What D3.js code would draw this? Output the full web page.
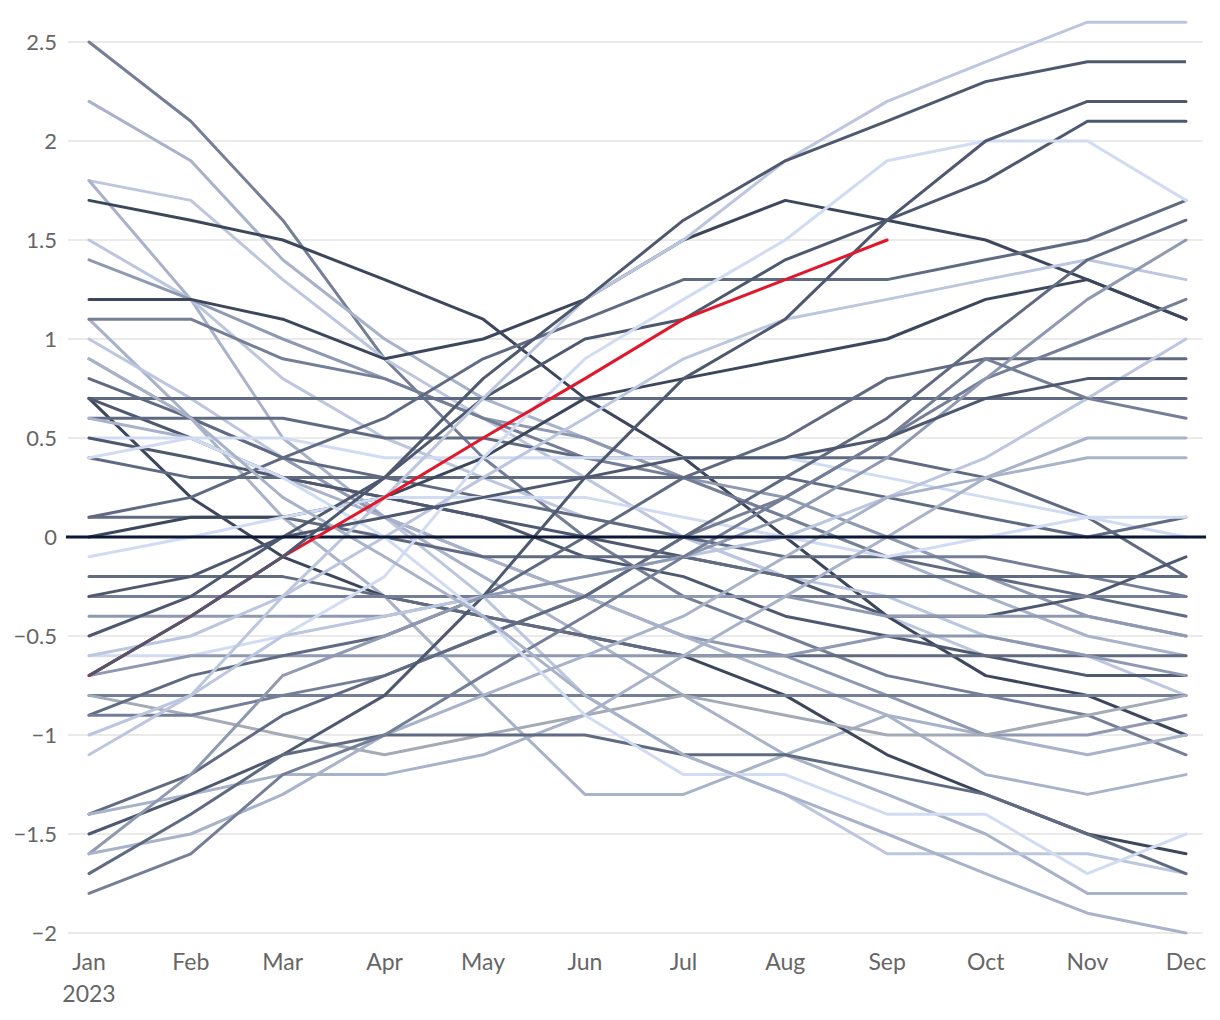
<!DOCTYPE html>
<html><head><meta charset="utf-8">
<script src="https://cdn.jsdelivr.net/npm/d3@7"></script>
<style>body{margin:0;background:#fff}svg{display:block}</style>
</head><body><svg id="c" width="1220" height="1020"></svg>
<script>
const months = ["2023-01-01","2023-02-01","2023-03-01","2023-04-01","2023-05-01","2023-06-01","2023-07-01","2023-08-01","2023-09-01","2023-10-01","2023-11-01","2023-12-01"];
const yTicks = [-2,-1.5,-1,-0.5,0,0.5,1,1.5,2,2.5];
const shades = ["#3d475b","#4e596f","#606b82","#747f97","#8f99b1","#a8b2c9","#bcc6de","#d1dcf3","#a4aab6"];
// each series: values Jan..Dec and a shade index
const seriesValues = [
 [2.5,2.1,1.6,0.9,0.4,0.0,-0.3,-0.5,-0.7,-0.8,-0.9,-1.1],
 [2.2,1.9,1.4,1.0,0.7,0.5,0.3,0.1,-0.1,-0.3,-0.5,-0.6],
 [1.8,1.7,1.3,0.9,0.6,0.3,0.0,-0.2,-0.4,-0.6,-0.7,-0.7],
 [1.8,1.2,0.5,0.1,-0.2,-0.5,-0.8,-1.1,-1.3,-1.5,-1.8,-1.8],
 [1.7,1.6,1.5,1.3,1.1,0.7,0.4,0.0,-0.4,-0.7,-0.8,-1.0],
 [1.5,1.2,0.8,0.5,0.3,0.1,0.0,-0.2,-0.3,-0.5,-0.6,-0.8],
 [1.4,1.2,1.0,0.8,0.6,0.5,0.3,0.2,0.0,-0.2,-0.4,-0.5],
 [1.2,1.2,1.1,0.9,1.0,1.2,1.5,1.7,1.6,1.5,1.3,1.1],
 [1.1,0.6,0.1,-0.3,-0.8,-1.3,-1.3,-1.1,-0.9,-1.0,-1.1,-1.0],
 [1.1,1.1,0.9,0.8,0.6,0.4,0.3,0.1,-0.1,-0.1,-0.2,-0.3],
 [1.0,0.7,0.4,0.1,-0.3,-0.8,-1.1,-1.3,-1.6,-1.6,-1.6,-1.7],
 [0.9,0.6,0.4,0.1,-0.1,-0.3,-0.5,-0.6,-0.8,-1.0,-1.0,-0.9],
 [0.8,0.6,0.4,0.3,0.2,0.1,0.0,-0.1,-0.1,-0.2,-0.3,-0.4],
 [0.7,0.7,0.7,0.7,0.7,0.7,0.7,0.7,0.7,0.7,0.7,0.7],
 [0.7,0.2,-0.1,-0.3,-0.4,-0.5,-0.6,-0.8,-1.1,-1.3,-1.5,-1.6],
 [0.7,0.5,0.3,0.2,0.1,-0.1,-0.2,-0.4,-0.5,-0.6,-0.7,-0.7],
 [0.6,0.6,0.6,0.5,0.5,0.4,0.4,0.4,0.4,0.3,0.1,-0.2],
 [0.6,0.5,0.3,0.1,-0.1,-0.3,-0.5,-0.7,-0.9,-1.2,-1.3,-1.2],
 [0.5,0.5,0.5,0.4,0.4,0.4,0.4,0.4,0.3,0.2,0.1,0.0],
 [0.5,0.4,0.3,0.2,0.1,0.0,-0.1,-0.2,-0.4,-0.4,-0.3,-0.1],
 [0.4,0.3,0.3,0.3,0.3,0.3,0.3,0.3,0.2,0.1,0.0,0.1],
 [0.1,0.2,0.4,0.6,0.9,1.1,1.3,1.3,1.3,1.4,1.5,1.7],
 [0.1,0.1,0.1,0.0,-0.1,-0.1,-0.1,-0.2,-0.2,-0.2,-0.2,-0.2],
 [0.0,0.1,0.1,0.2,0.4,0.7,0.8,0.9,1.0,1.2,1.3,1.1],
 [-0.1,0.0,0.1,0.2,0.2,0.2,0.1,0.0,-0.1,0.0,0.1,0.1],
 [-0.2,-0.2,-0.2,-0.3,-0.4,-0.5,-0.6,-0.6,-0.6,-0.6,-0.6,-0.6],
 [-0.3,-0.3,-0.3,-0.3,-0.3,-0.3,-0.3,-0.3,-0.3,-0.3,-0.3,-0.3],
 [-0.4,-0.4,-0.4,-0.4,-0.3,-0.3,-0.3,-0.3,-0.4,-0.4,-0.4,-0.5],
 [-0.5,-0.3,0.0,0.3,0.7,1.0,1.1,1.4,1.6,1.8,2.1,2.1],
 [-0.6,-0.6,-0.5,-0.2,0.4,0.9,1.2,1.5,1.9,2.0,2.0,1.7],
 [-0.6,-0.5,-0.3,0.0,0.3,0.6,0.9,1.1,1.2,1.3,1.4,1.3],
 [-0.7,-0.6,-0.6,-0.6,-0.6,-0.6,-0.6,-0.6,-0.5,-0.5,-0.6,-0.7],
 [-0.8,-0.8,-0.8,-0.8,-0.8,-0.8,-0.8,-0.8,-0.8,-0.8,-0.8,-0.8],
 [-0.8,-0.9,-1.0,-1.1,-1.0,-0.9,-0.8,-0.9,-1.0,-1.0,-0.9,-0.8],
 [-0.9,-0.7,-0.6,-0.5,-0.3,0.0,0.3,0.5,0.8,0.9,0.9,0.9],
 [-0.9,-0.9,-0.8,-0.7,-0.5,-0.3,0.0,0.2,0.5,0.8,1.0,1.2],
 [-1.0,-0.8,-0.3,0.2,0.7,1.2,1.5,1.9,2.2,2.4,2.6,2.6],
 [-1.1,-0.8,-0.5,-0.4,-0.3,-0.2,-0.1,0.0,0.2,0.4,0.7,1.0],
 [-1.4,-1.2,-0.9,-0.7,-0.5,-0.3,0.0,0.3,0.6,1.0,1.4,1.6],
 [-1.4,-1.3,-1.2,-1.2,-1.1,-0.9,-0.6,-0.3,0.0,0.3,0.4,0.4],
 [-1.5,-1.3,-1.1,-0.8,-0.3,0.3,0.8,1.1,1.6,2.0,2.2,2.2],
 [-1.6,-1.2,-0.7,-0.5,-0.3,-0.2,-0.1,0.1,0.4,0.8,1.2,1.5],
 [-1.6,-1.5,-1.3,-1.0,-0.8,-0.6,-0.4,-0.1,0.2,0.3,0.5,0.5],
 [-1.7,-1.4,-1.1,-1.0,-1.0,-1.0,-1.1,-1.1,-1.2,-1.3,-1.5,-1.7],
 [-1.8,-1.6,-1.2,-1.0,-0.7,-0.4,-0.1,0.2,0.5,0.9,0.7,0.6],
 [0.4,0.5,0.3,0.0,-0.4,-0.9,-1.2,-1.2,-1.4,-1.4,-1.7,-1.5],
 [-0.3,-0.2,0.0,0.1,0.2,0.3,0.4,0.4,0.5,0.7,0.8,0.8],
 [0.9,0.6,0.2,-0.1,-0.4,-0.8,-1.1,-1.3,-1.5,-1.7,-1.9,-2.0]
];
const seriesShade = [3,5,6,5,0,6,4,0,5,3,6,4,2,2,0,1,2,5,7,1,2,2,2,0,7,2,3,4,1,7,6,4,3,8,2,3,6,6,2,5,1,4,5,2,3,7,1,5];
const highlightSeries = [-0.7,-0.4,-0.1,0.2,0.5,0.8,1.1,1.3,1.5];
const overlaySeries = [-0.7,-0.4,-0.1,0.3,0.8,1.2,1.6,1.9,2.1,2.3,2.4,2.4];

const svg = d3.select("#c");
const parse = d3.utcParse("%Y-%m-%d");
const dates = months.map(parse);
const x = d3.scaleUtc().domain([dates[0], dates[11]]).range([89, 1186]);
const y = d3.scaleLinear().domain([-2, 2.5]).range([933, 42]);
const font = "Lato, 'Noto Sans', sans-serif";

// grid
svg.append("g").selectAll("line").data(yTicks.filter(d=>d!==0)).join("line")
  .attr("x1",68).attr("x2",1203).attr("y1",d=>y(d)).attr("y2",d=>y(d))
  .attr("stroke","#e3e3e3").attr("stroke-width",1.6);
// y labels
svg.append("g").selectAll("text").data(yTicks).join("text")
  .attr("x",57).attr("y",d=>y(d)).attr("dy","0.36em").attr("text-anchor","end")
  .attr("font-family",font).attr("font-size",22).attr("fill","#666")
  .text(d=>d3.format("~g")(d));
// x labels
const xl = svg.append("g");
xl.selectAll("text").data(dates).join("text")
  .attr("x",d=>x(d)).attr("y",970).attr("text-anchor","middle")
  .attr("font-family",font).attr("font-size",23).attr("fill","#666")
  .text(d=>d3.utcFormat("%b")(d));
xl.append("text").attr("x",x(dates[0])).attr("y",1002).attr("text-anchor","middle")
  .attr("font-family",font).attr("font-size",23).attr("fill","#666").text("2023");

const line = d3.line().x((d,i)=>x(dates[i])).y(d=>y(d));
const g = svg.append("g").attr("fill","none").attr("stroke-linejoin","round").attr("stroke-linecap","round");
g.selectAll("path.s").data(seriesValues).join("path").attr("class","s")
  .attr("d",line).attr("stroke",(d,i)=>shades[seriesShade[i]]).attr("stroke-width",3);
// zero line
svg.append("line").attr("x1",66).attr("x2",1206).attr("y1",y(0)).attr("y2",y(0))
  .attr("stroke","#0c1636").attr("stroke-width",3);
svg.append("path").attr("d",line(highlightSeries)).attr("fill","none")
  .attr("stroke","#e0182c").attr("stroke-width",3).attr("stroke-linecap","round");
svg.append("path").attr("d",line(overlaySeries)).attr("fill","none")
  .attr("stroke",shades[1]).attr("stroke-width",3).attr("stroke-linejoin","round");
</script></body></html>
